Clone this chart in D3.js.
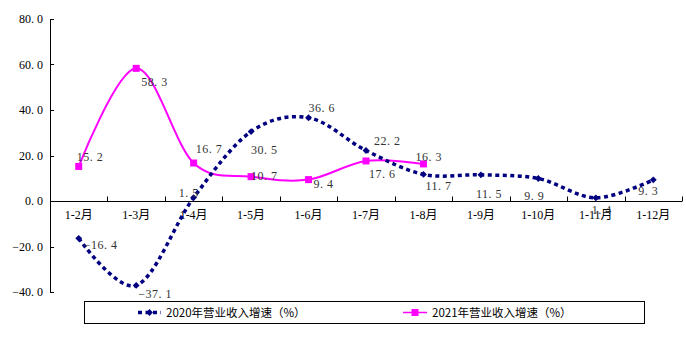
<!DOCTYPE html>
<html>
<head>
<meta charset="utf-8">
<script src="https://cdn.jsdelivr.net/npm/d3@7"></script>
<style>
    body { margin: 0; background: #fff; }
    .tick-label { font-family: "Liberation Serif", "Noto Sans CJK SC", serif; font-size: 12px; fill: #000; }
    .val-label { font-family: "Liberation Serif", "Noto Sans CJK SC", serif; font-size: 12px; fill: #333; letter-spacing: 0.5px; }
    .legend-text { font-family: "Noto Sans CJK SC", sans-serif; font-size: 11.5px; fill: #000; }
</style>
</head>
<body>
<div class="chart"></div>
<script>
var months = ["1-2月", "1-3月", "1-4月", "1-5月", "1-6月", "1-7月", "1-8月", "1-9月", "1-10月", "1-11月", "1-12月"];
var growth2020 = [-16.4, -37.1, 1.5, 30.5, 36.6, 22.2, 11.7, 11.5, 9.9, 1.4, 9.3];
var growth2021 = [15.2, 58.3, 16.7, 10.7, 9.4, 17.6, 16.3];
var yTicks = [-40, -20, 0, 20, 40, 60, 80];
var seriesNames = ["2020年营业收入增速（%）", "2021年营业收入增速（%）"];

// label offsets [dx, dy] for each point
var off2020 = [[5, 7], [2, 9], [-15, -5], [0, 18], [0, -10],
               [8, -9], [2, 12], [-5, 19], [-14, 18], [-4, 12], [-15, 11]];
var off2021 = [[-2, -9], [5, 14], [2, -14], [0, -1], [5, 4],
               [3, 13], [-8, -7]];

var svgWidth = 686, svgHeight = 345;

var svg = d3.select(".chart").append("svg")
    .attr("width", svgWidth).attr("height", svgHeight);

var xScale = d3.scaleBand().domain(months).range([50, 682]);
var yScale = d3.scaleLinear().domain([-40, 80]).range([292, 19]);
var cx = function(i) { return xScale(months[i]) + xScale.bandwidth() / 2; };

function fmt(v) { return v.toFixed(1).replace("-", "−").replace(".", ". "); }

// y axis
svg.append("line").attr("x1", 50.5).attr("x2", 50.5).attr("y1", 19).attr("y2", 292)
    .attr("stroke", "#000").attr("stroke-width", 1);
yTicks.forEach(function(t) {
    var ty = Math.round(yScale(t)) + 0.5;
    svg.append("line").attr("x1", 50).attr("x2", 54)
        .attr("y1", ty).attr("y2", ty)
        .attr("stroke", "#000");
    svg.append("text").attr("class", "tick-label")
        .attr("x", 43).attr("y", yScale(t) + 4)
        .attr("text-anchor", "end")
        .text(fmt(t));
});

// x axis
var y0 = Math.round(yScale(0)) + 0.5;
svg.append("line").attr("x1", 50).attr("x2", 682).attr("y1", y0).attr("y2", y0)
    .attr("stroke", "#000");
months.forEach(function(m, i) {
    var xr = Math.round(xScale(m) + xScale.bandwidth()) + 0.5;
    svg.append("line").attr("x1", xr).attr("x2", xr).attr("y1", y0 - 5).attr("y2", y0)
        .attr("stroke", "#000");
    svg.append("text").attr("class", "tick-label")
        .attr("x", cx(i)).attr("y", 219)
        .attr("text-anchor", "middle")
        .text(m);
});

var line = d3.line()
    .x(function(d, i) { return cx(i); })
    .y(function(d) { return yScale(d); })
    .curve(d3.curveCardinal.tension(0));

// 2021 series
svg.append("path").datum(growth2021)
    .attr("d", line).attr("fill", "none")
    .attr("stroke", "#ff00ff").attr("stroke-width", 2);

// 2020 series
svg.append("path").datum(growth2020)
    .attr("d", line).attr("fill", "none")
    .attr("stroke", "#000080").attr("stroke-width", 3.5)
    .attr("stroke-dasharray", "4,3.5");

svg.selectAll(".dia").data(growth2020).enter()
    .append("path")
    .attr("d", d3.symbol().type(d3.symbolDiamond2).size(30))
    .attr("transform", function(d, i) { return "translate(" + cx(i) + "," + yScale(d) + ")"; })
    .attr("fill", "#000080");

svg.selectAll(".sq").data(growth2021).enter()
    .append("rect")
    .attr("x", function(d, i) { return cx(i) - 3.5; })
    .attr("y", function(d) { return yScale(d) - 3.5; })
    .attr("width", 7).attr("height", 7)
    .attr("fill", "#ff00ff");

// value labels
growth2020.forEach(function(v, i) {
    svg.append("text").attr("class", "val-label")
        .attr("x", cx(i) + off2020[i][0]).attr("y", yScale(v) + off2020[i][1] + 4)
        .text(fmt(v));
});
growth2021.forEach(function(v, i) {
    svg.append("text").attr("class", "val-label")
        .attr("x", cx(i) + off2021[i][0]).attr("y", yScale(v) + off2021[i][1] + 4)
        .text(fmt(v));
});

// legend
svg.append("rect").attr("x", 84.5).attr("y", 301.5).attr("width", 560).attr("height", 22)
    .attr("fill", "none").attr("stroke", "#000");
var ly = 312.5;
svg.append("line").attr("x1", 138).attr("x2", 161).attr("y1", ly).attr("y2", ly)
    .attr("stroke", "#000080").attr("stroke-width", 3.5).attr("stroke-dasharray", "4,3.5");
svg.append("path").attr("d", d3.symbol().type(d3.symbolDiamond2).size(30))
    .attr("transform", "translate(149.5," + ly + ")").attr("fill", "#000080");
svg.append("text").attr("class", "legend-text").attr("x", 166).attr("y", ly + 4).text(seriesNames[0]);

svg.append("line").attr("x1", 403).attr("x2", 427).attr("y1", ly).attr("y2", ly)
    .attr("stroke", "#ff00ff").attr("stroke-width", 1.5);
svg.append("rect").attr("x", 411.5).attr("y", ly - 3.5).attr("width", 7).attr("height", 7)
    .attr("fill", "#ff00ff");
svg.append("text").attr("class", "legend-text").attr("x", 432).attr("y", ly + 4).text(seriesNames[1]);
</script>
</body>
</html>
